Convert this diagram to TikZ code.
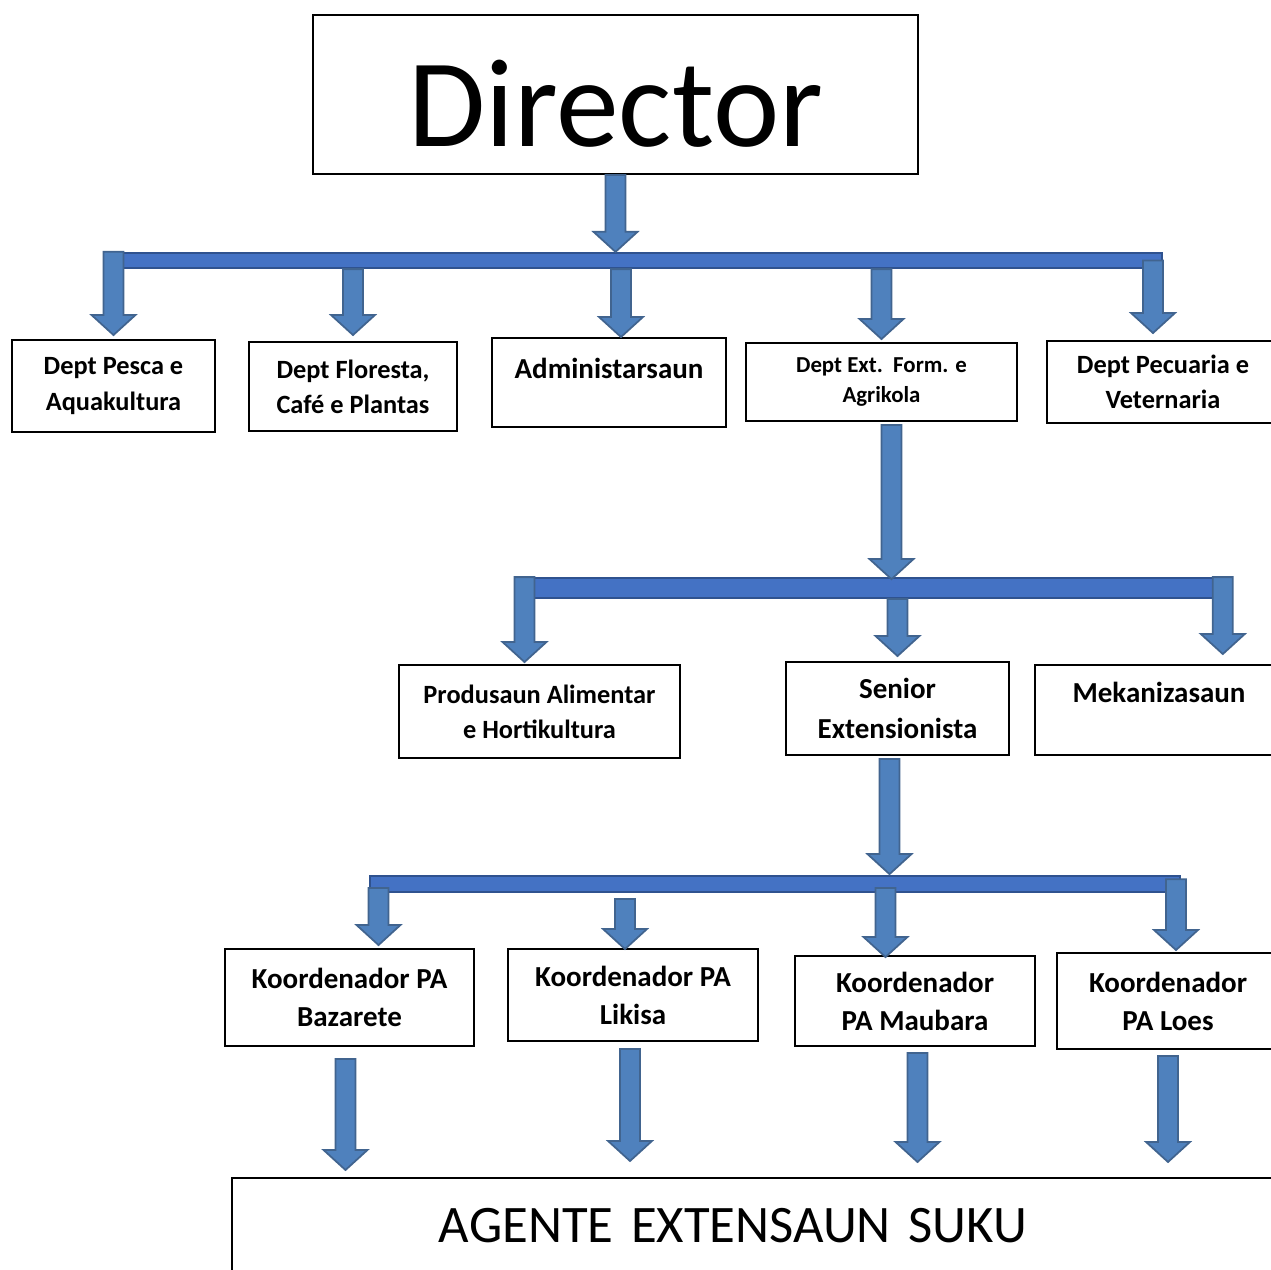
\documentclass[tikz,border=0pt]{standalone}
\usepackage{fontspec}
\setmainfont{Carlito}
\usetikzlibrary{calc}

\definecolor{arrfill}{HTML}{4F81BD}
\definecolor{arrline}{HTML}{41648F}
\definecolor{barfill}{HTML}{4472C4}
\definecolor{barline}{HTML}{2F528F}

\newcommand{\fatarrow}[2]{%
  \filldraw[fat] let \p1=#1, \p2=#2 in
    (\x1-5.7pt,\y1) -- (\x1+5.7pt,\y1) -- (\x1+5.7pt,\y2+11.4pt)
    -- (\x1+12.5pt,\y2+11.4pt) -- (\x1,\y2) -- (\x1-12.5pt,\y2+11.4pt)
    -- (\x1-5.7pt,\y2+11.4pt) -- cycle;}

\begin{document}
\begin{tikzpicture}[x=0.02cm,y=-0.02cm,
  box/.style={draw,line width=1.1pt,inner sep=0pt,align=center},
  deptfont/.style={font=\fontsize{15}{20}\selectfont\bfseries},
  bigfont/.style={font=\fontsize{16.5}{21.6}\selectfont\bfseries},
  bar/.style={draw=barline,fill=barfill,line width=1pt,inner sep=0pt},
  fat/.style={draw=arrline,fill=arrfill,line width=1pt,line join=miter}]
\clip (0,0) rectangle (1271,1270);

\node[box,minimum width=12.1cm,minimum height=3.18cm,text height=60pt,font=\fontsize{71.5}{80}\selectfont] (Dir) at (615.5,94.5) {Director};

\node[box,deptfont,minimum width=4.06cm,minimum height=1.84cm] (DPesca) at (113.5,386) {Dept Pesca e\\Aquakultura};
\node[box,deptfont,minimum width=4.16cm,minimum height=1.78cm] (DFloresta) at (353,386.5) {Dept Floresta,\\Café e Plantas};
\node[box,bigfont,minimum width=4.68cm,minimum height=1.78cm] (Admin) at (609,382.5) {Administarsaun\\[-5.6pt]\mbox{}};
\node[box,font=\fontsize{13}{17.6}\selectfont\bfseries,minimum width=5.42cm,minimum height=1.56cm] (DExt) at (881.5,382) {Dept Ext.\ \ Form. e\\Agrikola};
\node[box,deptfont,minimum width=4.64cm,minimum height=1.64cm] (DPecuaria) at (1163,382) {Dept Pecuaria e\\Veternaria};

\node[box,deptfont,minimum width=5.62cm,minimum height=1.86cm] (Produsaun) at (539.5,711.5) {Produsaun Alimentar\\e Hortikultura};
\node[box,font=\fontsize{16.5}{22.4}\selectfont\bfseries,minimum width=4.46cm,minimum height=1.86cm] (Senior) at (897.5,708.5) {Senior\\Extensionista};
\node[box,bigfont,minimum width=4.96cm,minimum height=1.8cm] (Mekan) at (1159,710) {Mekanizasaun\\[-2pt]\mbox{}};

\node[box,bigfont,minimum width=4.98cm,minimum height=1.94cm] (Bazarete) at (349.5,997.5) {Koordenador PA\\Bazarete};
\node[box,bigfont,minimum width=5cm,minimum height=1.84cm] (Likisa) at (633,995) {Koordenador PA\\Likisa};
\node[box,bigfont,minimum width=4.8cm,minimum height=1.8cm] (Maubara) at (915,1001) {Koordenador\\PA Maubara};
\node[box,bigfont,minimum width=4.44cm,minimum height=1.92cm] (Loes) at (1168,1001) {Koordenador\\PA Loes};

\node[box,font=\fontsize{30}{36}\selectfont,anchor=north west,align=left,text width=14cm,inner xsep=4.14cm,minimum height=1.92cm] (Agente) at (231,1177) {AGENTE EXTENSAUN SUKU};

\node[bar,minimum width=21.08cm,minimum height=0.31cm] (Bar1) at (635,260.5) {};
\node[bar,minimum width=14.14cm,minimum height=0.4cm] (Bar2) at (868.5,588) {};
\node[bar,minimum width=16.2cm,minimum height=0.32cm] (Bar3) at (775,884) {};

\fatarrow{(Dir.south)}{(Dir.south |- Bar1.north)}
\fatarrow{(Bar1.north -| DPesca.north)}{($(DPesca.north)+(0,-4)$)}
\fatarrow{(Bar1.south -| DFloresta.north)}{($(DFloresta.north)+(0,-6)$)}
\fatarrow{($(Bar1.south -| Admin.north)+(12,0)$)}{($(Admin.north)+(12,0)$)}
\fatarrow{(Bar1.south -| DExt.north)}{($(DExt.north)+(0,-3)$)}
\fatarrow{($(Bar1.center -| DPecuaria.north)+(-10,0)$)}{($(DPecuaria.north)+(-10,-7)$)}

\fatarrow{($(DExt.south)+(10,3)$)}{($(DExt.south |- Bar2.north)+(10,2)$)}
\fatarrow{($(Bar2.north -| Produsaun.north)+(-15,0)$)}{($(Produsaun.north)+(-15,-2)$)}
\fatarrow{(Bar2.south -| Senior.north)}{($(Senior.north)+(0,-5)$)}
\fatarrow{(Bar2.north east)}{($(Bar2.east |- Mekan.north)+(0,-10)$)}

\fatarrow{($(Senior.south)+(-8,3)$)}{($(Senior.south |- Bar3.north)+(-8,-1)$)}
\fatarrow{($(Bar3.center -| Bazarete.north)+(29,4)$)}{($(Bazarete.north)+(29,-3)$)}
\fatarrow{($(Bar3.south -| Likisa.north)+(-8,6)$)}{($(Likisa.north)+(-8,1)$)}
\fatarrow{($(Bar3.center -| Maubara.north)+(-29.5,4)$)}{($(Maubara.north)+(-29.5,2)$)}
\fatarrow{($(Bar3.north -| Loes.north)+(8,4)$)}{($(Loes.north)+(8,-2)$)}

\fatarrow{($(Bazarete.south)+(-4,12)$)}{($(Bazarete.south |- Agente.north)+(-4,-7)$)}
\fatarrow{($(Likisa.south)+(-3,7)$)}{($(Likisa.south |- Agente.north)+(-3,-16)$)}
\fatarrow{($(Maubara.south)+(2.5,6)$)}{($(Maubara.south |- Agente.north)+(2.5,-15)$)}
\fatarrow{($(Loes.south)+(0,6)$)}{($(Loes.south |- Agente.north)+(0,-15)$)}
\end{tikzpicture}
\end{document}
